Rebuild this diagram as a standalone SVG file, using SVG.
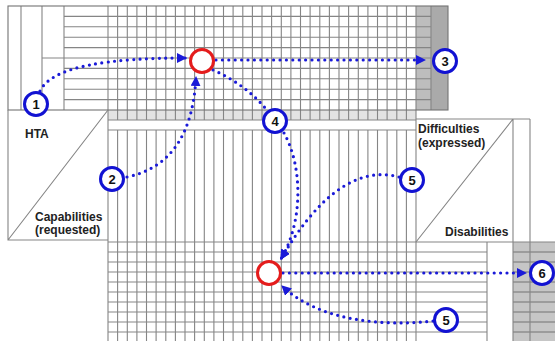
<svg xmlns="http://www.w3.org/2000/svg" width="555" height="341" viewBox="0 0 555 341">
<style>
.g{stroke:#858585;stroke-width:1.1;fill:none}
.gd{stroke:#737373;stroke-width:1.1;fill:none}
.lbl{font-family:"Liberation Sans",Arial,sans-serif;font-weight:bold;font-size:12px;fill:#222}
.badge circle{fill:#fff;stroke:#1212d2;stroke-width:3}
.badge text{font-family:"Liberation Sans",Arial,sans-serif;font-weight:bold;font-size:13px;fill:#111;text-anchor:middle}
.hub circle{fill:#fff;stroke:#e41c1c;stroke-width:3}
.dot{fill:none;stroke:#1a1ad8;stroke-width:3.2;stroke-linecap:round;stroke-dasharray:0 6.4}
</style>
<defs>
<marker id="ah" markerWidth="10" markerHeight="10" viewBox="0 0 10 10" refX="9" refY="5" orient="auto" markerUnits="userSpaceOnUse">
<path d="M0,0 L10,5 L0,10 z" fill="#1a1ad8"/>
</marker>
</defs>
<rect width="555" height="341" fill="#fff"/>

<g id="top-matrix">
<rect x="416" y="6" width="15" height="104" fill="#bdbdbd"/>
<rect x="431" y="6" width="17" height="104" fill="#aaaaaa"/>
<rect x="108" y="110" width="308" height="10" fill="#e3e3e3"/>
<path class="g" d="M64,16.4H431M64,26.8H431M64,37.2H431M64,47.6H431M42,58H431M64,68.4H431M64,78.8H431M64,89.2H431M64,99.6H431"/>
<path class="g" d="M21,6V110M42,6V110M64,6V110M431,6V110M108,120H416"/>
<path class="g" d="M108,6V341M117.6,6V120M127.3,6V120M136.9,6V120M146.5,6V120M156.1,6V120M165.8,6V120M175.4,6V120M185,6V120M194.6,6V120M204.3,6V120M213.9,6V120M223.5,6V120M233.1,6V120M242.8,6V120M252.4,6V120M262,6V120M271.6,6V120M281.3,6V120M290.9,6V120M300.5,6V120M310.1,6V120M319.8,6V120M329.4,6V120M339,6V120M348.6,6V120M358.3,6V120M367.9,6V120M377.5,6V120M387.1,6V120M396.8,6V120M406.4,6V120M416,6V341"/>
<rect class="gd" x="8" y="6" width="440" height="104"/>
</g>

<g id="capabilities-header">
<path class="g" d="M8,110V240H108M8,240L108,110"/>
</g>

<g id="bottom-matrix">
<rect x="513" y="242" width="42" height="99" fill="#c6c6c6"/>
<path class="g" d="M108,130H416"/>
<path class="g" d="M117.6,130V341M127.3,130V341M136.9,130V341M146.5,130V341M156.1,130V341M165.8,130V341M175.4,130V341M185,130V341M194.6,130V341M204.3,130V341M213.9,130V341M223.5,130V341M233.1,130V341M242.8,130V341M252.4,130V341M262,130V341M271.6,130V341M281.3,130V341M290.9,130V341M300.5,130V341M310.1,130V341M319.8,130V341M329.4,130V341M339,130V341M348.6,130V341M358.3,130V341M367.9,130V341M377.5,130V341M387.1,130V341M396.8,130V341M406.4,130V341"/>
<path class="g" d="M108,242H555M108,252H487M108,262H487M108,272H487M108,282H487M108,292H487M108,302H487M108,312H487M108,322H487M108,332H487"/>
<path class="gd" d="M513,252H555M513,262H555M513,272H555M513,282H555M513,292H555M513,302H555M513,312H555M513,322H555M513,332H555"/>
<path class="g" d="M487,242V341"/>
</g>

<g id="difficulties-header">
<path class="g" d="M416,119H530M513,119V341M530,119V341M416,242L513,119"/>
</g>

<g id="labels">
<text class="lbl" x="25" y="138">HTA</text>
<text class="lbl" x="35" y="221">Capabilities</text>
<text class="lbl" x="35" y="234">(requested)</text>
<text class="lbl" x="418" y="133">Difficulties</text>
<text class="lbl" x="418" y="147">(expressed)</text>
<text class="lbl" x="445" y="236">Disabilities</text>
</g>

<g id="connectors">
<path class="dot" d="M40,91C52,66 110,58 186,58" marker-end="url(#ah)"/>
<path class="dot" d="M216,60H425" marker-end="url(#ah)"/>
<path class="dot" d="M127,177C170,168 193,135 196,77" marker-end="url(#ah)"/>
<path class="dot" d="M213,70Q245,84 266,109"/>
<path class="dot" d="M284,133C302,165 304,220 281,259" marker-end="url(#ah)"/>
<path class="dot" d="M399,177C355,165 315,200 281,259" marker-end="url(#ah)"/>
<path class="dot" d="M433,321C380,327 318,320 282,286" marker-end="url(#ah)"/>
<path class="dot" d="M283,273H526" marker-end="url(#ah)"/>
</g>

<g id="hub-top" class="hub"><circle cx="202" cy="61" r="11.5"/></g>
<g id="hub-bottom" class="hub"><circle cx="269" cy="273" r="11.5"/></g>

<g id="badge-1" class="badge"><circle cx="36" cy="104" r="11.5"/><text x="36" y="108.5">1</text></g>
<g id="badge-2" class="badge"><circle cx="112" cy="179" r="11.5"/><text x="112" y="183.5">2</text></g>
<g id="badge-3" class="badge"><circle cx="445" cy="61" r="11.5"/><text x="445" y="65.5">3</text></g>
<g id="badge-4" class="badge"><circle cx="275" cy="121" r="11.5"/><text x="275" y="125.5">4</text></g>
<g id="badge-5a" class="badge"><circle cx="412" cy="180" r="11.5"/><text x="412" y="184.5">5</text></g>
<g id="badge-5b" class="badge"><circle cx="446" cy="320" r="11.5"/><text x="446" y="324.5">5</text></g>
<g id="badge-6" class="badge"><circle cx="542" cy="273" r="11.5"/><text x="542" y="277.5">6</text></g>
</svg>
